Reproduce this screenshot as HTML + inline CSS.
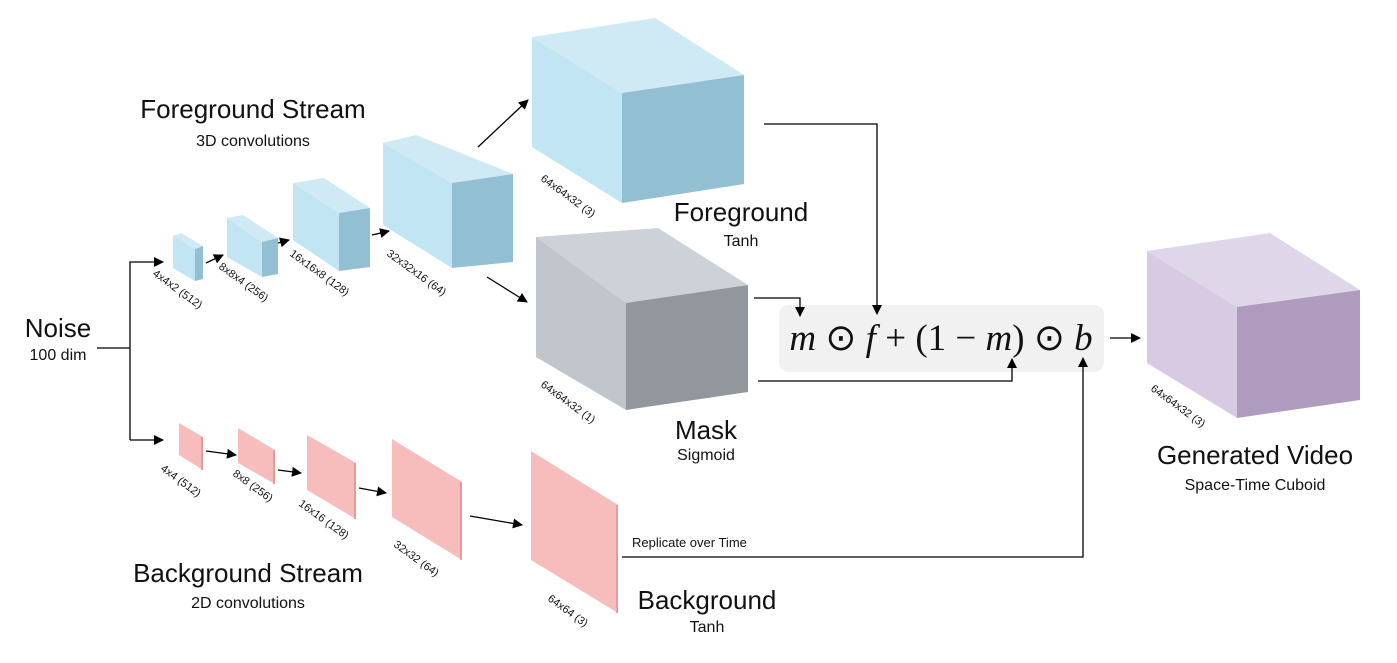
<!DOCTYPE html>
<html><head><meta charset="utf-8"><style>
html,body{margin:0;padding:0;background:#fff;}
svg{display:block;}
text{font-family:"Liberation Sans",sans-serif;fill:#111;}
.big{font-size:26px;}
.sub{font-size:16px;}
.lab{font-size:11px;}
</style></head><body>
<svg width="1397" height="663" viewBox="0 0 1397 663" xmlns="http://www.w3.org/2000/svg">
<defs>
<marker id="ah" markerWidth="10" markerHeight="10" refX="9" refY="5" orient="auto" markerUnits="userSpaceOnUse">
<path d="M0,0 L10,5 L0,10 z" fill="#000"/></marker>
</defs>

<!-- Blue cubes -->
<g>
<polygon points="173,236 195,249 195,281 173,268" fill="#c2e5f3"/>
<polygon points="173,236 181,233 203,246 195,249" fill="#cfeaf5"/>
<polygon points="195,249 203,246 203,279 195,281" fill="#92bfd2"/>

<polygon points="227,218 262,242 262,277 227,257" fill="#c2e5f3"/>
<polygon points="227,218 243,215 278,238 262,242" fill="#cfeaf5"/>
<polygon points="262,242 278,238 278,274 262,277" fill="#92bfd2"/>

<polygon points="293,183 339,213 339,271 293,240" fill="#c2e5f3"/>
<polygon points="293,183 324,178 370,208 339,213" fill="#cfeaf5"/>
<polygon points="339,213 370,208 370,267 339,271" fill="#92bfd2"/>

<polygon points="383,143 452,183 452,268 383,225" fill="#c2e5f3"/>
<polygon points="383,143 416,135 513,174 452,183" fill="#cfeaf5"/>
<polygon points="452,183 513,174 513,262 452,268" fill="#92bfd2"/>

<polygon points="532,37 622,93 622,203 532,147" fill="#c2e5f3"/>
<polygon points="532,37 655,18 744,75 622,93" fill="#cfeaf5"/>
<polygon points="622,93 744,75 744,184 622,203" fill="#92bfd2"/>

<polygon points="536,237 626,303 626,410 536,357" fill="#c1c5cc"/>
<polygon points="536,237 658,228 748,285 626,303" fill="#cdd1d8"/>
<polygon points="626,303 748,285 748,392 626,410" fill="#92979e"/>

<polygon points="1147,251 1237,307 1237,418 1147,363" fill="#d7cae2"/>
<polygon points="1147,251 1270,233 1360,290 1237,307" fill="#e0d6e9"/>
<polygon points="1237,307 1360,290 1360,400 1237,418" fill="#ae9bbd"/>
</g>

<!-- pink planes -->
<g fill="#f7bcbc">
<polygon points="179,423 203,437 203,470 179,455"/>
<polygon points="238,428 275,450 275,484 238,463"/>
<polygon points="307,435 356,463 356,519 307,490"/>
<polygon points="392,439 462,482 462,560 392,517"/>
<polygon points="531,451 618,505 618,613 531,560"/>
</g>
<g stroke="#e49b9b" stroke-width="2">
<line x1="202" y1="437" x2="202" y2="470"/>
<line x1="274" y1="450" x2="274" y2="484"/>
<line x1="355" y1="463" x2="355" y2="519"/>
<line x1="461" y1="482" x2="461" y2="560"/>
<line x1="617" y1="505" x2="617" y2="613"/>
</g>

<rect x="779" y="305" width="325" height="67" rx="10" fill="#f1f1f1"/>

<!-- connectors -->
<g stroke="#000" stroke-width="1.3" fill="none">
<polyline points="97,348 130,348"/>
<polyline points="130,440 130,262 163,262" marker-end="url(#ah)"/>
<polyline points="130,440 163,440" marker-end="url(#ah)"/>
<line x1="206" y1="263" x2="223" y2="255" marker-end="url(#ah)"/>
<line x1="278" y1="243" x2="289" y2="240" marker-end="url(#ah)"/>
<line x1="372" y1="235" x2="389" y2="231" marker-end="url(#ah)"/>
<line x1="478" y1="147" x2="528" y2="100" marker-end="url(#ah)"/>
<line x1="487" y1="277" x2="527" y2="302" marker-end="url(#ah)"/>
<line x1="206" y1="451" x2="236" y2="455" marker-end="url(#ah)"/>
<line x1="278" y1="470" x2="301" y2="473" marker-end="url(#ah)"/>
<line x1="359" y1="488" x2="386" y2="493" marker-end="url(#ah)"/>
<line x1="470" y1="516" x2="522" y2="525" marker-end="url(#ah)"/>
<polyline points="764,124 877,124 877,314" marker-end="url(#ah)"/>
<polyline points="754,298 800,298 800,316" marker-end="url(#ah)"/>
<polyline points="758,381 1012,381 1012,359" marker-end="url(#ah)"/>
<polyline points="622,557 1083,557 1083,358" marker-end="url(#ah)"/>
<line x1="1110" y1="338" x2="1140" y2="338" marker-end="url(#ah)"/>
</g>

<text x="941" y="350" text-anchor="middle" style="font-family:'Liberation Serif',serif;font-size:37px;"><tspan font-style="italic">m</tspan> ⊙ <tspan font-style="italic">f</tspan> + (1 − <tspan font-style="italic">m</tspan>) ⊙ <tspan font-style="italic">b</tspan></text>

<!-- titles -->
<text class="big" x="58" y="337" text-anchor="middle">Noise</text>
<text class="sub" x="58" y="360" text-anchor="middle">100 dim</text>
<text class="big" x="253" y="118" text-anchor="middle">Foreground Stream</text>
<text class="sub" x="253" y="146" text-anchor="middle">3D convolutions</text>
<text class="big" x="248" y="582" text-anchor="middle">Background Stream</text>
<text class="sub" x="248" y="608" text-anchor="middle">2D convolutions</text>
<text class="big" x="741" y="221" text-anchor="middle">Foreground</text>
<text class="sub" x="741" y="246" text-anchor="middle">Tanh</text>
<text class="big" x="706" y="439" text-anchor="middle">Mask</text>
<text class="sub" x="706" y="460" text-anchor="middle">Sigmoid</text>
<text class="big" x="707" y="609" text-anchor="middle">Background</text>
<text class="sub" x="707" y="632" text-anchor="middle">Tanh</text>
<text class="big" x="1255" y="464" text-anchor="middle">Generated Video</text>
<text class="sub" x="1255" y="490" text-anchor="middle">Space-Time Cuboid</text>
<text x="632" y="547" style="font-size:13px;">Replicate over Time</text>

<!-- rotated labels -->
<g>
<text class="lab" transform="translate(152,275) rotate(36)">4x4x2 (512)</text>
<text class="lab" transform="translate(218,268) rotate(36)">8x8x4 (256)</text>
<text class="lab" transform="translate(289,255) rotate(36)">16x16x8 (128)</text>
<text class="lab" transform="translate(386,255) rotate(36)">32x32x16 (64)</text>
<text class="lab" transform="translate(540,180) rotate(36)">64x64x32 (3)</text>
<text class="lab" transform="translate(540,386) rotate(36)">64x64x32 (1)</text>
<text class="lab" transform="translate(1150,390) rotate(36)">64x64x32 (3)</text>
<text class="lab" transform="translate(160,470) rotate(36)">4x4 (512)</text>
<text class="lab" transform="translate(232,475) rotate(36)">8x8 (256)</text>
<text class="lab" transform="translate(298,505) rotate(36)">16x16 (128)</text>
<text class="lab" transform="translate(393,546) rotate(36)">32x32 (64)</text>
<text class="lab" transform="translate(547,600) rotate(36)">64x64 (3)</text>
</g>
</svg>
</body></html>
